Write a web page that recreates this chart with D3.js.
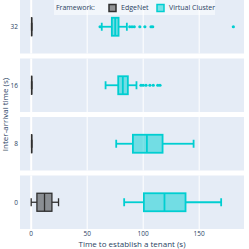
<!DOCTYPE html>
<html><head><meta charset="utf-8">
<script src="https://cdn.jsdelivr.net/npm/d3@7"></script>
<style>body{margin:0;background:#fff;}svg{display:block;font-family:"Open Sans",sans-serif;}</style>
</head><body>
<svg id="c" width="249" height="249"></svg>
<script>
// categories (top to bottom)
const intervals = ["32", "16", "8", "0"];
const frameworks = ["EdgeNet", "Virtual Cluster"];
const xTicks = [0, 50, 100, 150];

// EdgeNet box stats per interval
const edgeLow = [0.3, 0.3, 0.3, 0];
const edgeQ1 = [0.3, 0.3, 0.3, 5.1];
const edgeMed = [0.4, 0.4, 0.4, 11.9];
const edgeQ3 = [0.5, 0.5, 0.5, 18.5];
const edgeHigh = [0.5, 0.5, 0.5, 24.4];
const edgeOut = [[], [], [], []];

// Virtual Cluster box stats per interval
const vcLow = [63, 66.4, 75.9, 83];
const vcQ1 = [72, 77.7, 90.8, 100.6];
const vcMed = [75, 81.8, 103.3, 119];
const vcQ3 = [78, 86.3, 117.3, 137.8];
const vcHigh = [85.4, 94, 145, 169.6];
const vcOut = [[61.5, 88, 90, 92, 97, 101.5, 107, 108.5, 180.5],
               [98, 100, 102.5, 106, 109, 113, 115], [], []];

const colors = {"EdgeNet": "#2f2f2f", "Virtual Cluster": "#00ced1"};

const svg = d3.select("#c");
const L = 20, R = 244, top0 = 0, bottom = 229, gap = 5;
const ph = (bottom - top0 - gap * (intervals.length - 1)) / intervals.length;
const x = d3.scaleLinear().domain([-10, 190]).range([L, R]);

const series = [
  {name: "EdgeNet", lo: edgeLow, q1: edgeQ1, med: edgeMed, q3: edgeQ3, hi: edgeHigh, out: edgeOut},
  {name: "Virtual Cluster", lo: vcLow, q1: vcQ1, med: vcMed, q3: vcQ3, hi: vcHigh, out: vcOut}
];

intervals.forEach((iv, i) => {
  const y0 = top0 + i * (ph + gap);
  const y = d3.scaleBand().domain([iv]).range([y0, y0 + ph]).paddingInner(0).paddingOuter(0);
  const g = svg.append("g");
  g.append("rect").attr("x", L).attr("y", y0).attr("width", R - L).attr("height", ph).attr("fill", "#e5ecf6");
  g.selectAll("line.grid").data(xTicks).join("line")
    .attr("x1", d => x(d)).attr("x2", d => x(d)).attr("y1", y0).attr("y2", y0 + ph)
    .attr("stroke", "#fff").attr("stroke-width", d => d === 0 ? 2 : 1);
  // y tick label
  g.append("text").attr("x", L - 2).attr("y", y(iv) + y.bandwidth() / 2).attr("dy", "0.35em")
    .attr("text-anchor", "end").attr("font-size", 6.5).attr("fill", "#2a3f5f").text(iv);
  const cy = y(iv) + y.bandwidth() / 2;
  const bh = 18, cap = 8;
  series.forEach(s => {
    const col = colors[s.name];
    const lw = s.name === "EdgeNet" ? 1.3 : 1.8;
    const bg = g.append("g");
    bg.append("line").attr("x1", x(s.lo[i])).attr("x2", x(s.q1[i])).attr("y1", cy).attr("y2", cy).attr("stroke", col).attr("stroke-width", lw);
    bg.append("line").attr("x1", x(s.q3[i])).attr("x2", x(s.hi[i])).attr("y1", cy).attr("y2", cy).attr("stroke", col).attr("stroke-width", lw);
    [s.lo[i], s.hi[i]].forEach(v => bg.append("line").attr("x1", x(v)).attr("x2", x(v)).attr("y1", cy - cap / 2).attr("y2", cy + cap / 2).attr("stroke", col).attr("stroke-width", lw));
    bg.append("rect").attr("x", x(s.q1[i])).attr("y", cy - bh / 2).attr("width", Math.max(0.01, x(s.q3[i]) - x(s.q1[i]))).attr("height", bh)
      .attr("fill", col).attr("fill-opacity", 0.5).attr("stroke", col).attr("stroke-width", lw);
    bg.append("line").attr("x1", x(s.med[i])).attr("x2", x(s.med[i])).attr("y1", cy - bh / 2).attr("y2", cy + bh / 2).attr("stroke", col).attr("stroke-width", lw);
    bg.selectAll("circle").data(s.out[i]).join("circle").attr("cx", d => x(d)).attr("cy", cy).attr("r", 1.6).attr("fill", col);
  });
});

// x axis tick labels
svg.selectAll("text.xt").data(xTicks).join("text").attr("class", "xt")
  .attr("x", d => x(d)).attr("y", 235.5).attr("text-anchor", "middle").attr("font-size", 6.5).attr("fill", "#2a3f5f").text(d => d);
svg.append("text").attr("x", (L + R) / 2).attr("y", 246.5).attr("text-anchor", "middle").attr("font-size", 8).attr("fill", "#2a3f5f")
  .text("Time to establish a tenant (s)");
svg.append("text").attr("transform", "translate(8," + (bottom / 2) + ") rotate(-90)").attr("text-anchor", "middle").attr("font-size", 8).attr("fill", "#2a3f5f")
  .text("Inter-arrival time (s)");

// legend
const lg = svg.append("g");
lg.append("rect").attr("x", 54).attr("y", 0).attr("width", 161).attr("height", 15).attr("fill", "#fff").attr("fill-opacity", 0.5);
lg.append("text").attr("x", 56).attr("y", 8).attr("dy", "0.35em").attr("font-size", 7).attr("fill", "#2a3f5f").text("Framework:");
const lx = [109, 157];
frameworks.forEach((f, k) => {
  lg.append("rect").attr("x", lx[k]).attr("y", 4.5).attr("width", 7).attr("height", 7)
    .attr("fill", colors[f]).attr("fill-opacity", 0.5).attr("stroke", colors[f]).attr("stroke-width", 1.5);
  lg.append("text").attr("x", lx[k] + 12).attr("y", 8).attr("dy", "0.35em").attr("font-size", 7).attr("fill", "#2a3f5f").text(f);
});
</script>
</body></html>
